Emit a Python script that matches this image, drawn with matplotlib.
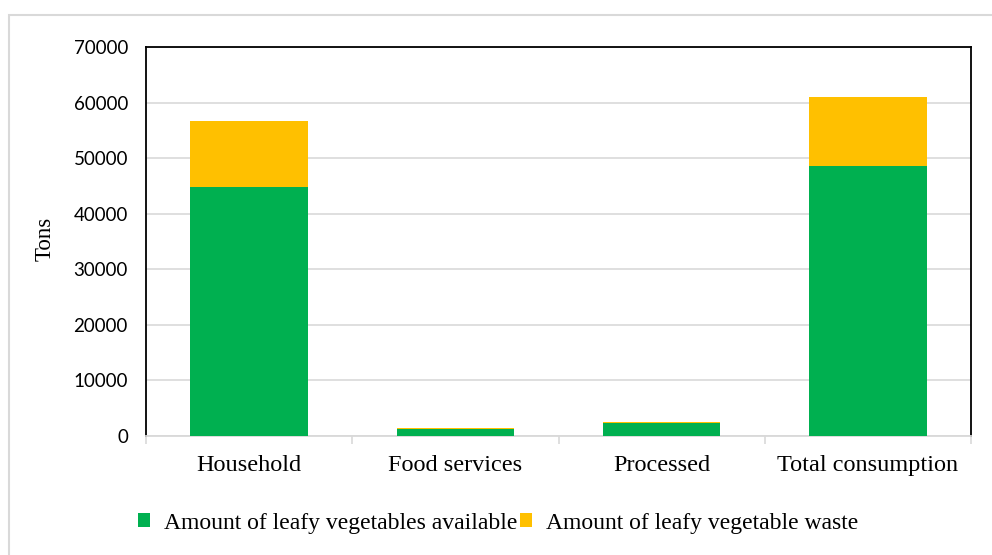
import matplotlib
matplotlib.use("Agg")
import matplotlib.pyplot as plt
from matplotlib.patches import Rectangle
from matplotlib.ticker import FixedLocator

categories = ["Household", "Food services", "Processed", "Total consumption"]
available = [44750, 1200, 2380, 48600]
waste = [11950, 260, 150, 12400]
series_names = ["Amount of leafy vegetables available", "Amount of leafy vegetable waste"]
yticks = [0, 10000, 20000, 30000, 40000, 50000, 60000, 70000]

GREEN = "#00B050"
YELLOW = "#FFC000"
GRID = "#D9D9D9"

W, H = 992, 555
fig = plt.figure(figsize=(W / 100, H / 100), dpi=100)

# outer chart border
fig.patches.append(Rectangle((9 / W, -0.1), 1.2, (H - 15) / H + 0.1,
                             transform=fig.transFigure, fill=False,
                             edgecolor=GRID, linewidth=1.5))

ax = fig.add_axes([146 / W, (H - 436) / H, (971 - 146) / W, (436 - 47) / H])

x = list(range(len(categories)))
ax.bar(x, available, width=0.57, color=GREEN, label=series_names[0], zorder=3)
ax.bar(x, waste, width=0.57, bottom=available, color=YELLOW, label=series_names[1], zorder=3)

ax.set_xlim(-0.5, len(categories) - 0.5)
ax.set_ylim(0, 70000)
ax.set_yticks(yticks)
ax.set_yticklabels([str(v) for v in yticks], fontfamily="Lato", fontsize=13.5)
ax.yaxis.grid(True, color=GRID, linewidth=1.2, zorder=0)
ax.tick_params(axis="y", length=0, pad=13)

ax.set_xticks(x)
ax.set_xticklabels(categories, fontfamily="Liberation Serif", fontsize=17.5)
ax.tick_params(axis="x", which="major", length=0, pad=14)
ax.xaxis.set_minor_locator(FixedLocator([i - 0.5 for i in range(len(categories) + 1)]))
ax.tick_params(axis="x", which="minor", length=6, color=GRID, width=1.2)

for s in ["top", "left", "right"]:
    ax.spines[s].set_color("black")
    ax.spines[s].set_linewidth(1.3)
ax.spines["bottom"].set_color(GRID)
ax.spines["bottom"].set_linewidth(1.3)

fig.text(45 / W, 1 - 239 / H, "Tons", rotation=90, ha="center", va="center",
         fontfamily="Liberation Serif", fontsize=16.5)

leg = fig.legend(loc="center", bbox_to_anchor=(498 / W, 1 - 523 / H), ncol=2,
                 frameon=False, prop={"family": "Liberation Serif", "size": 17},
                 handlelength=0.5, handleheight=0.5, handletextpad=0.6,
                 columnspacing=0.1)

fig.savefig("out.png", dpi=100)
